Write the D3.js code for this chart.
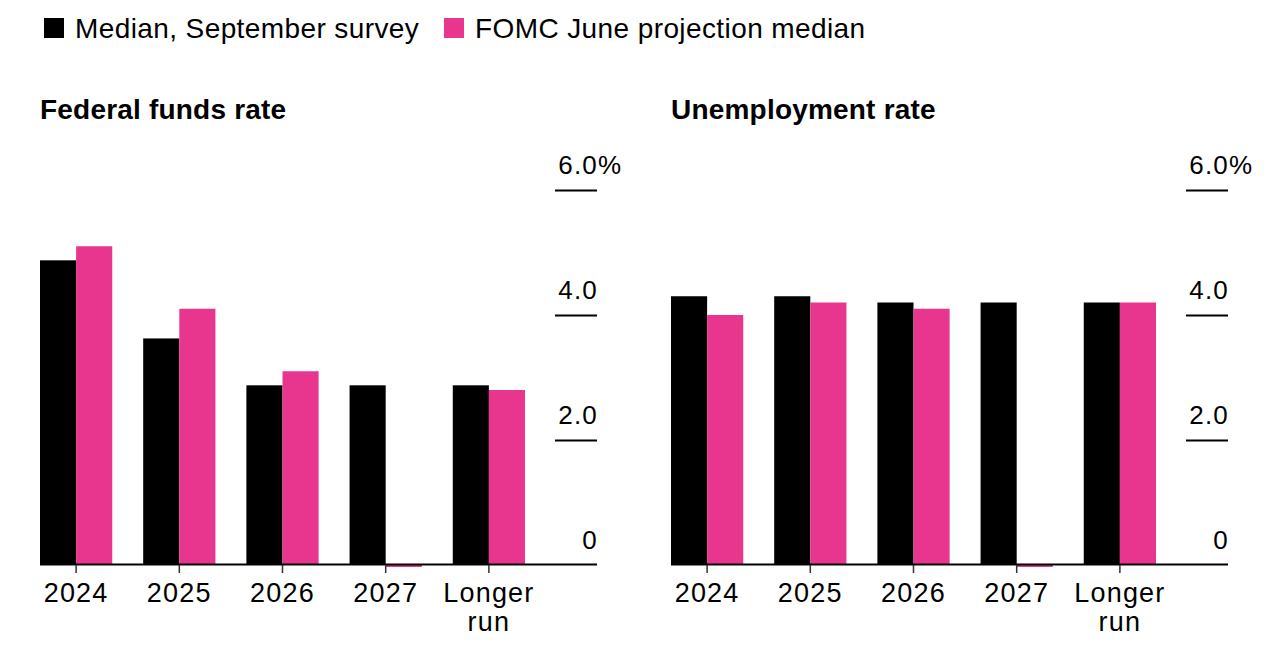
<!DOCTYPE html>
<html>
<head>
<meta charset="utf-8">
<script src="https://cdn.jsdelivr.net/npm/d3@7"></script>
<style>
    body { margin: 0; background: #fff; }
    svg { display: block; font-family: "Liberation Sans", Arial, sans-serif; }
</style>
</head>
<body>
<script>
// values
const categories = ["2024", "2025", "2026", "2027", "Longer run"];
const seriesNames = ["Median, September survey", "FOMC June projection median"];
const fedSurvey = [4.875, 3.625, 2.875, 2.875, 2.875];
const fedFomc = [5.1, 4.1, 3.1, null, 2.8];
const unempSurvey = [4.3, 4.3, 4.2, 4.2, 4.2];
const unempFomc = [4.0, 4.2, 4.1, null, 4.2];
const yTicks = [0, 2, 4, 6];

const colors = ["#000000", "#e8368f"];

const width = 1286, height = 648;

const svg = d3.select("body").append("svg")
    .attr("width", width)
    .attr("height", height);

// legend
const legend = svg.append("g");
[44, 444].forEach((lx, i) => {
    legend.append("rect")
        .attr("x", lx).attr("y", 18)
        .attr("width", 20).attr("height", 20)
        .attr("fill", colors[i]);
    legend.append("text")
        .attr("x", lx + 31).attr("y", 38)
        .attr("font-size", 28)
        .attr("letter-spacing", 0.4)
        .attr("fill", "#000")
        .text(seriesNames[i]);
});

const y = d3.scaleLinear().domain([0, 6]).range([565, 190]);

function drawPanel(x0, title, survey, fomc) {
    const g = svg.append("g");

    const x = d3.scaleBand()
        .domain(categories)
        .range([x0, x0 + 485])
        .paddingInner(0.3)
        .paddingOuter(0);

    const xSub = d3.scaleBand()
        .domain([0, 1])
        .range([0, x.bandwidth()]);

    g.append("text")
        .attr("x", x0).attr("y", 119)
        .attr("font-size", 28)
        .attr("font-weight", "bold")
        .attr("letter-spacing", 0.2)
        .attr("fill", "#000")
        .text(title);

    // y axis: short lines with labels above, on the right
    const yAxis = g.append("g")
        .attr("transform", `translate(${x0 + 515},0)`)
        .call(d3.axisRight(y)
            .tickValues(yTicks)
            .tickSize(42)
            .tickFormat(d => d === 0 ? "0" : d3.format(".1f")(d)));
    yAxis.select(".domain").remove();
    yAxis.selectAll(".tick line")
        .attr("stroke", "#000")
        .attr("stroke-width", 2)
        .filter(d => d === 0).remove();
    yAxis.selectAll(".tick text")
        .attr("x", 43)
        .attr("dy", -17)
        .attr("text-anchor", "end")
        .attr("font-size", 26)
        .attr("letter-spacing", 1.2)
        .attr("fill", "#000");
    yAxis.selectAll(".tick")
        .filter(d => d === d3.max(yTicks))
        .append("text")
        .attr("x", 43)
        .attr("dy", -17)
        .attr("text-anchor", "start")
        .attr("font-size", 26)
        .attr("fill", "#000")
        .text("%");

    // bars
    const rows = categories.map((c, i) => ({ cat: c, values: [survey[i], fomc[i]] }));
    g.append("g").selectAll("g")
        .data(rows)
        .join("g")
        .attr("transform", d => `translate(${x(d.cat)},0)`)
        .selectAll("rect")
        .data(d => d.values.map((v, k) => ({ v, k })))
        .join("rect")
        .attr("x", d => xSub(d.k))
        .attr("width", xSub.bandwidth())
        .attr("y", d => d.v == null ? y(0) : y(d.v))
        .attr("height", d => d.v == null ? 2 : y(0) - y(d.v))
        .attr("fill", d => colors[d.k]);

    // baseline
    g.append("line")
        .attr("x1", x0).attr("x2", x0 + 557)
        .attr("y1", y(0) - 0.5).attr("y2", y(0) - 0.5)
        .attr("stroke", "#000")
        .attr("stroke-width", 2);

    // x axis
    const xAxis = g.append("g")
        .attr("transform", `translate(0,${y(0)})`)
        .call(d3.axisBottom(x).tickSize(8).tickSizeOuter(0));
    xAxis.select(".domain").remove();
    xAxis.selectAll(".tick line")
        .attr("stroke", "#333")
        .attr("stroke-width", 1.5);
    xAxis.selectAll(".tick text").remove();
    xAxis.selectAll(".tick").append("text")
        .attr("text-anchor", "middle")
        .attr("font-size", 27)
        .attr("letter-spacing", 1.2)
        .attr("fill", "#000")
        .selectAll("tspan")
        .data(d => d.split(" "))
        .join("tspan")
        .attr("x", 0)
        .attr("y", (d, i) => 37 + i * 29)
        .text(d => d);
}

drawPanel(40, "Federal funds rate", fedSurvey, fedFomc);
drawPanel(671, "Unemployment rate", unempSurvey, unempFomc);
</script>
</body>
</html>
